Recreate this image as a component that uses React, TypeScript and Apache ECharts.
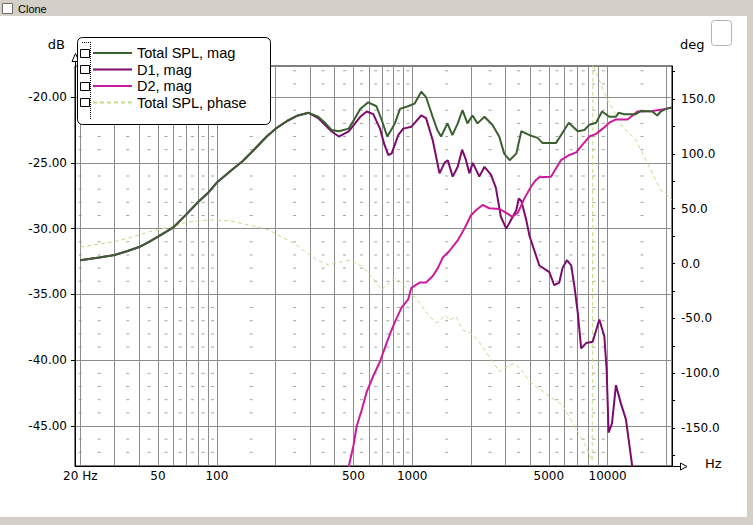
import { useEffect, useRef } from 'react';
import * as echarts from 'echarts';

// ---- data ----
const totalFreq = [20, 25, 30, 35, 40, 45, 50, 60, 70, 80, 90, 100, 120, 135, 155, 180, 200, 230, 260, 295, 330, 360, 386, 421, 473, 510, 542, 595, 656, 700, 745, 780, 815, 866, 952, 1027, 1112, 1177, 1272, 1343, 1406, 1514, 1605, 1710, 1807, 1917, 2034, 2157, 2342, 2571, 2787, 2956, 3151, 3409, 3616, 3989, 4379, 4650, 5439, 5768, 6330, 7034, 7607, 8069, 8726, 9364, 10199, 11030, 11369, 12160, 13947, 14789, 16935, 17952, 18690, 19821, 21350];
const totalDb = [-32.4, -32.2, -32.0, -31.7, -31.4, -31.0, -30.6, -29.9, -28.9, -28.0, -27.3, -26.5, -25.5, -24.9, -24.0, -23.0, -22.4, -21.8, -21.4, -21.2, -21.5, -22.0, -22.5, -22.6, -22.4, -21.6, -20.9, -20.4, -20.7, -21.8, -23.0, -22.5, -22.0, -20.9, -20.7, -20.5, -19.6, -20.0, -21.5, -22.5, -23.0, -22.0, -22.9, -22.0, -21.0, -22.0, -21.4, -22.0, -21.5, -22.1, -23.0, -24.3, -24.8, -24.3, -22.6, -22.9, -23.1, -23.5, -23.5, -22.9, -21.95, -22.6, -22.5, -22.1, -21.95, -21.1, -21.5, -21.5, -21.2, -21.3, -21.3, -21.06, -21.1, -21.4, -21.1, -20.9, -20.8];

const d1Freq = [20, 25, 30, 35, 40, 45, 50, 60, 70, 80, 90, 100, 120, 135, 155, 180, 200, 230, 260, 295, 330, 386, 421, 473, 542, 585, 632, 684, 720, 754, 784, 848, 899, 990, 1112, 1177, 1274, 1379, 1463, 1520, 1611, 1709, 1800, 1885, 1960, 2041, 2204, 2342, 2528, 2680, 2841, 3028, 3212, 3409, 3509, 3616, 3827, 3989, 4473, 5029, 5332, 5654, 5877, 6184, 6510, 6778, 7034, 7320, 7761, 8386, 9069, 9619, 9881, 10115, 10527, 11030, 11698, 12406, 13402, 13660];
const d1Db = [-32.4, -32.2, -32.0, -31.7, -31.4, -31.0, -30.6, -29.9, -28.9, -28.0, -27.3, -26.5, -25.5, -24.9, -24.0, -23.0, -22.4, -21.8, -21.4, -21.2, -21.6, -22.6, -23.0, -22.6, -21.5, -21.1, -21.3, -22.4, -23.6, -24.4, -24.3, -22.9, -22.4, -22.25, -21.4, -21.6, -23.3, -25.8, -25.0, -24.8, -26.05, -25.3, -24.0, -24.8, -25.8, -25.0, -26.05, -25.3, -25.9, -26.9, -29.1, -30.0, -29.3, -28.6, -27.7, -27.9, -29.3, -30.6, -32.8, -33.3, -34.3, -34.1, -33.0, -32.4, -32.8, -34.5, -36.4, -39.1, -38.7, -38.6, -36.9, -38.2, -40.7, -45.5, -44.8, -41.9, -43.3, -44.5, -48.2, -49.0];

const d2Freq = [470, 476, 500, 520, 551, 585, 632, 684, 739, 784, 815, 881, 952, 990, 1091, 1177, 1274, 1352, 1433, 1550, 1709, 1849, 1995, 2120, 2291, 2478, 2787, 3028, 3250, 3468, 3751, 4059, 4298, 4473, 5129, 5768, 6382, 6905, 7458, 8069, 8726, 9430, 10199, 11030, 12632, 13156, 14203, 16935, 19821, 21350];
const d2Db = [-49.0, -47.9, -46.5, -45.0, -43.8, -42.4, -41.2, -40.1, -38.7, -37.7, -37.1, -36.0, -35.4, -34.5, -34.1, -34.1, -33.6, -33.0, -32.2, -31.7, -30.9, -30.0, -29.0, -28.6, -28.2, -28.45, -28.5, -28.8, -29.1, -28.8, -27.7, -26.8, -26.3, -26.1, -26.05, -24.8, -24.4, -24.2, -23.6, -23.0, -22.8, -22.4, -21.95, -21.7, -21.7, -21.5, -21.1, -21.06, -20.9, -20.8];

const phaseFreq = [20, 30, 35, 45, 57, 72, 91.5, 116, 146, 185, 252, 324, 373, 430, 481, 551, 620, 697, 754, 815, 866, 952, 1091, 1227, 1326, 1379, 1463, 1550, 1678, 1813, 1995, 2165, 2478, 2787, 2956, 3338, 3616, 3989, 5029, 5877, 6634, 7761, 8230, 8340, 8400, 8555, 9991, 11913, 13947, 16298, 18690, 19821, 21350];
const phaseDeg = [15, 20, 23, 29, 33, 38, 39.7, 39, 35, 30.6, 17.6, 3.3, -1.3, 1.5, 3.2, -2.2, -12, -24, -18, -13.4, -16.5, -24, -36, -48.4, -54, -53, -47, -51.5, -48.4, -60.6, -63.6, -69.7, -84.8, -98.5, -95.5, -91, -97, -107.7, -121, -129, -145.6, -167, -177.5, -180, 182, 178, 149, 124.7, 112.6, 88.3, 67, 64, 58];

// ---- axis / grid definitions ----
const xLabelValues = [20, 50, 100, 500, 1000, 5000, 10000];
const xGridValues = [20, 30, 40, 50, 60, 70, 80, 90, 100, 200, 300, 400, 500, 600, 700, 800, 900, 1000, 2000, 3000, 4000, 5000, 6000, 7000, 8000, 9000, 10000, 20000];
const dbLabelValues = [-45, -40, -35, -30, -25, -20];
const degLabelValues = [-150, -100, -50, 0, 50, 100, 150];
const degTickValues = [-175, -150, -125, -100, -75, -50, -25, 0, 25, 50, 75, 100, 125, 150, 175];
const dashFreq = [20, 25, 35, 45, 55, 65, 75, 85, 95, 150, 250, 350, 450, 550, 650, 750, 850, 950, 1500, 2500, 3500, 4500, 5500, 6500, 7500, 8500, 9500, 15000];
const dashDb = [-47, -46, -44, -43, -42, -41, -39, -38, -37, -36, -34, -33, -32, -31, -29, -28, -27, -26, -24, -23, -22, -21, -19, -18];

const seriesNames = ['Total SPL, mag', 'D1, mag', 'D2, mag', 'Total SPL, phase'];

const pair = (xs: number[], ys: number[]) => xs.map((x, i) => [x, ys[i]]);

export default function App() {
  const ref = useRef<HTMLDivElement>(null);

  useEffect(() => {
    if (!ref.current) return;
    const chart = echarts.init(ref.current, undefined, { renderer: 'svg' });

    const tickFont = { fontFamily: 'DejaVu Sans', fontSize: 12, color: '#000' };
    const gridColor = '#8c8c8c';
    const rowY = [53.7, 70.2, 86.7, 103.2];

    const dashData: number[][] = [];
    dashFreq.forEach((f) => dashDb.forEach((d) => dashData.push([f, d])));

    const option: any = {
      animation: false,
      backgroundColor: '#ffffff',
      grid: {
        left: 75,
        top: 66,
        width: 597,
        height: 400,
        show: true,
        borderColor: '#000',
        borderWidth: 1,
        backgroundColor: 'transparent',
        containLabel: false,
        outerBoundsMode: 'none',
      },
      legend: {
        data: seriesNames,
        orient: 'vertical',
        left: 92,
        top: 45.5,
        padding: 0,
        itemWidth: 39,
        itemHeight: 12,
        itemGap: 1.5,
        selectedMode: false,
        itemStyle: { opacity: 0 },
        textStyle: { fontFamily: 'Liberation Sans, Arial, sans-serif', fontSize: 14.5, color: '#000', lineHeight: 12 },
        z: 6,
      },
      xAxis: {
        type: 'log',
        logBase: 10,
        min: 18.8,
        max: 21350,
        axisLine: { show: true, onZero: false, lineStyle: { color: '#000', width: 1 } },
        axisTick: { show: false, customValues: xGridValues },
        minorTick: { show: false },
        axisLabel: {
          customValues: xLabelValues,
          ...tickFont,
          margin: 4,
          formatter: (v: number) => {
            const r = Math.round(v);
            return r === 20 ? '20 Hz' : String(r);
          },
        },
        splitLine: { show: true, lineStyle: { color: gridColor, width: 1 } },
      },
      yAxis: [
        {
          type: 'value',
          position: 'left',
          min: -48.04,
          max: -17.64,
          axisLine: { show: true, onZero: false, lineStyle: { color: '#000', width: 1 } },
          axisTick: { show: true, length: 4, inside: false, customValues: dbLabelValues, lineStyle: { color: '#000' } },
          axisLabel: {
            customValues: dbLabelValues,
            ...tickFont,
            margin: 8,
            padding: [5, 0, 0, 0],
            formatter: (v: number) => v.toFixed(2),
          },
          splitLine: { show: true, lineStyle: { color: gridColor, width: 1 } },
        },
        {
          type: 'value',
          position: 'right',
          min: -184.6,
          max: 180.1,
          axisLine: { show: true, onZero: false, lineStyle: { color: '#000', width: 1 } },
          axisTick: { show: true, length: 3, inside: false, customValues: degTickValues, lineStyle: { color: '#000' } },
          axisLabel: {
            customValues: degLabelValues,
            ...tickFont,
            margin: 9,
            padding: [4, 0, 0, 0],
            formatter: (v: number) => v.toFixed(1),
          },
          splitLine: { show: false },
        },
      ],
      graphic: [
        // window chrome
        { type: 'rect', shape: { x: 0, y: 0, width: 753, height: 16 }, style: { fill: '#d4d0c8' }, z: 10 },
        { type: 'rect', shape: { x: 747, y: 0, width: 6, height: 525 }, style: { fill: '#d4d0c8' }, z: 10 },
        { type: 'rect', shape: { x: 0, y: 517, width: 753, height: 8 }, style: { fill: '#d4d0c8' }, z: 10 },
        { type: 'rect', shape: { x: 2.5, y: 3.5, width: 10, height: 10 }, style: { fill: '#fff', stroke: '#6e6e6e', lineWidth: 1 }, z: 11 },
        { type: 'text', x: 18, y: 8.5, style: { text: 'Clone', fill: '#000', font: '11px "Liberation Sans", Arial, sans-serif', textAlign: 'left', textVerticalAlign: 'middle' }, z: 11 },
        { type: 'rect', shape: { x: 711.5, y: 20.5, width: 20, height: 25, r: 3 }, style: { fill: '#fff', stroke: '#b4b4b4', lineWidth: 1 }, z: 11 },
        // axis names
        { type: 'text', x: 65, y: 44, style: { text: 'dB', fill: '#000', font: '13px "DejaVu Sans", sans-serif', textAlign: 'right', textVerticalAlign: 'middle' }, z: 4 },
        { type: 'text', x: 680, y: 44, style: { text: 'deg', fill: '#000', font: '13px "DejaVu Sans", sans-serif', textAlign: 'left', textVerticalAlign: 'middle' }, z: 4 },
        { type: 'text', x: 705, y: 463, style: { text: 'Hz', fill: '#000', font: '13px "DejaVu Sans", sans-serif', textAlign: 'left', textVerticalAlign: 'middle' }, z: 4 },
        // axis arrows
        { type: 'line', shape: { x1: 75.5, y1: 66, x2: 75.5, y2: 61 }, style: { stroke: '#000', lineWidth: 1 }, z: 1 },
        { type: 'polygon', shape: { points: [[75.5, 53.5], [72, 61.5], [79, 61.5]] }, style: { fill: '#fff', stroke: '#000', lineWidth: 1 }, z: 1 },
        { type: 'line', shape: { x1: 672, y1: 466.5, x2: 680, y2: 466.5 }, style: { stroke: '#000', lineWidth: 1 }, z: 1 },
        { type: 'polygon', shape: { points: [[680.5, 463], [687, 466.5], [680.5, 470]] }, style: { fill: '#fff', stroke: '#000', lineWidth: 1 }, z: 1 },
        // legend frame
        { type: 'rect', shape: { x: 77.5, y: 37.5, width: 193, height: 87, r: 5 }, style: { fill: '#fff', stroke: '#000', lineWidth: 1 }, z: 3 },
        { type: 'line', shape: { x1: 90.5, y1: 42, x2: 90.5, y2: 120 }, style: { stroke: '#000', lineWidth: 1, lineDash: [1, 1] }, z: 5 },
        { type: 'line', shape: { x1: 82, y1: 42.5, x2: 90, y2: 42.5 }, style: { stroke: '#000', lineWidth: 1, lineDash: [1, 1] }, z: 5 },
        ...rowY.map((y) => ({
          type: 'rect',
          shape: { x: 80.5, y: Math.round(y) - 4.5, width: 9, height: 8 },
          style: { fill: '#fff', stroke: '#000', lineWidth: 1 },
          z: 5,
        })),
      ],
      series: [
        {
          name: 'grid dots',
          type: 'scatter',
          data: dashData,
          symbol: 'rect',
          symbolSize: [3, 1],
          itemStyle: { color: '#8c8c8c' },
          silent: true,
          z: 1,
        },
        {
          name: 'Total SPL, phase',
          type: 'line',
          yAxisIndex: 1,
          data: pair(phaseFreq, phaseDeg),
          symbol: 'none',
          lineStyle: { color: '#c6da8c', width: 1, type: [4, 3] },
          itemStyle: { color: '#c6da8c' },
          z: 2,
        },
        {
          name: 'D1, mag',
          type: 'line',
          data: pair(d1Freq, d1Db),
          symbol: 'none',
          lineStyle: { color: '#7c0b6c', width: 2 },
          itemStyle: { color: '#7c0b6c' },
          z: 2,
        },
        {
          name: 'D2, mag',
          type: 'line',
          data: pair(d2Freq, d2Db),
          symbol: 'none',
          lineStyle: { color: '#cc1a9c', width: 2 },
          itemStyle: { color: '#cc1a9c' },
          z: 2,
        },
        {
          name: 'Total SPL, mag',
          type: 'line',
          data: pair(totalFreq, totalDb),
          symbol: 'none',
          lineStyle: { color: '#3a6030', width: 2 },
          itemStyle: { color: '#3a6030' },
          z: 2,
        },
      ],
    };

    chart.setOption(option);
    return () => chart.dispose();
  }, []);

  return (
    <div
      ref={ref}
      style={{ position: 'fixed', left: 0, top: 0, width: 753, height: 525, background: '#fff' }}
    />
  );
}
